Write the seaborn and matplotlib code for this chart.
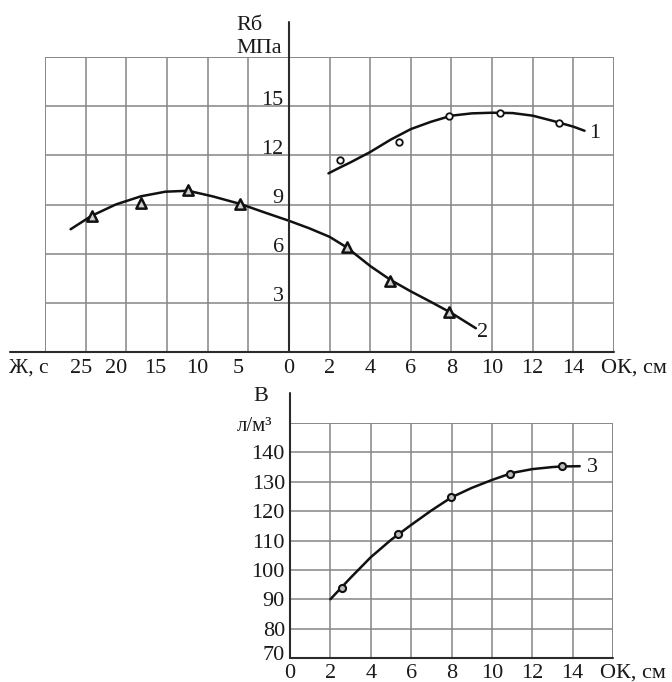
import numpy as np
import pandas as pd
import matplotlib
matplotlib.use("Agg")
import matplotlib.pyplot as plt
import seaborn as sns

# --- DATA ---
# curve 1: strength vs slump (OK, cm)
S1_OK = [2.5, 5.4, 7.9, 10.4, 13.3]
S1_R = [11.7, 12.8, 14.4, 14.6, 14.0]
C1_OK = [1.95, 2.5, 3, 4, 5, 6, 7, 8, 9, 10, 11, 12, 13, 14, 14.55]
C1_R = [10.9, 11.25, 11.55, 12.2, 12.95, 13.6, 14.05, 14.42, 14.56, 14.6, 14.58, 14.42, 14.1, 13.75, 13.5]

# curve 2: strength vs stiffness (Ж, s) on the left and slump (OK, cm) on the right
S2_ZH = [24.2, 18.2, 12.4, 6.0]
S2_ZH_R = [8.3, 9.09, 9.88, 9.03]
S2_OK = [2.84, 5.0, 7.9]
S2_OK_R = [6.4, 4.33, 2.42]
C2_ZH = [26.85, 24.3, 21.3, 18.2, 15.2, 12.4, 9.4, 5.95, 2.9, 0]
C2_ZH_R = [7.49, 8.3, 9.0, 9.5, 9.78, 9.84, 9.5, 9.03, 8.5, 8.01]
C2_OK = [0, 1, 2, 2.84, 4, 5, 6, 7, 8, 9.2]
C2_OK_R = [8.01, 7.55, 7.03, 6.39, 5.25, 4.4, 3.7, 3.05, 2.38, 1.45]

# curve 3: water demand vs slump
S3_OK = [2.56, 5.36, 7.96, 10.9, 13.45]
S3_B = [94.0, 112.3, 124.7, 132.8, 135.2]
C3_OK = [2.0, 3, 4, 5, 6, 7, 8, 9, 10, 11, 12, 13, 13.45, 14.35]
C3_B = [90, 97.3, 104.3, 110.2, 115.3, 120.2, 124.7, 127.9, 130.6, 133.0, 134.3, 135.0, 135.2, 135.3]

ZH_TICKS = [25, 20, 15, 10, 5]
OK_TICKS = [0, 2, 4, 6, 8, 10, 12, 14]
R_TICKS = [3, 6, 9, 12, 15]
B_TICKS = [70, 80, 90, 100, 110, 120, 130, 140]

ZH_SCALE = 0.4  # 5 s of Ж take the same width as 2 cm of OK

sns.set_theme(style="white")
plt.rcParams['font.family'] = ['Liberation Serif', 'DejaVu Serif']
FS = 16
TXT = "#1a1a1a"
GRID = "#858585"
AXIS = "#2b2b2b"

fig = plt.figure(figsize=(6.72, 6.82), dpi=100)
W, H = 672.0, 682.0

# ---------- top chart ----------
ax1 = fig.add_axes([45 / W, 1 - 352 / H, 569 / W, 295 / H])
ax1.set_xlim(-12, 16)
ax1.set_ylim(0, 18)

c1 = pd.DataFrame({"x": C1_OK, "y": C1_R})
s1 = pd.DataFrame({"x": S1_OK, "y": S1_R})
zh_pos = [-z * ZH_SCALE for z in C2_ZH]
c2 = pd.DataFrame({"x": zh_pos[:-1] + C2_OK, "y": C2_ZH_R[:-1] + C2_OK_R})
s2 = pd.DataFrame({"x": [-z * ZH_SCALE for z in S2_ZH] + S2_OK, "y": S2_ZH_R + S2_OK_R})

sns.lineplot(data=c1, x="x", y="y", ax=ax1, color="#111111", lw=1.8, estimator=None, sort=False)
sns.lineplot(data=c2, x="x", y="y", ax=ax1, color="#111111", lw=1.8, estimator=None, sort=False)
sns.scatterplot(data=s1, x="x", y="y", ax=ax1, marker="o", s=22, facecolor="white",
                edgecolor="#111111", linewidth=1.3, zorder=5)
sns.scatterplot(data=s2, x="x", y="y", ax=ax1, marker="^", s=55, facecolor="#d0d0d0",
                edgecolor="#111111", linewidth=1.8, zorder=5)

ax1.set_xticks(np.arange(-12, 17, 2))
ax1.set_yticks(np.arange(0, 19, 3))
ax1.grid(True, color=GRID, lw=1.1)
ax1.tick_params(length=0, labelbottom=False, labelleft=False)
for sp in ax1.spines.values():
    sp.set_visible(False)
ax1.set_xlabel("")
ax1.set_ylabel("")
# frame edges (grey like the grid)
ax1.axvline(-12, color=GRID, lw=1.1)
ax1.axvline(16, color=GRID, lw=1.1)
ax1.axhline(18, color=GRID, lw=1.1)
# axes
ax1.axhline(0, xmin=-35 / 569, xmax=1, color=AXIS, lw=1.5, clip_on=False)
ax1.axvline(0, ymin=0, ymax=(352 - 22) / 295, color=AXIS, lw=1.5, clip_on=False)

for v in R_TICKS:
    ax1.text(-0.25, v + 0.1, str(v), ha="right", va="baseline", fontsize=FS, color=TXT)
left_lab_pos = [-10.2, -8.5, -6.6, -4.5, -2.5]
for z, p in zip(ZH_TICKS, left_lab_pos):
    ax1.text(p, -1.28, str(z), ha="center", va="baseline", fontsize=FS, color=TXT)
for v in OK_TICKS:
    ax1.text(v, -1.28, str(v), ha="center", va="baseline", fontsize=FS, color=TXT)
ax1.text(-13.75, -1.28, "Ж, с", ha="left", va="baseline", fontsize=FS - 0.5, color=TXT)
ax1.text(15.35, -1.28, "ОК, см", ha="left", va="baseline", fontsize=FS, color=TXT)
ax1.text(-2.6, 19.65, "Rб", ha="left", va="baseline", fontsize=FS, color=TXT, clip_on=False)
ax1.text(-2.6, 18.24, "МПа", ha="left", va="baseline", fontsize=FS, color=TXT, clip_on=False)
ax1.text(15.06, 13.36, "1", ha="center", va="center", fontsize=FS, color=TXT)
ax1.text(9.55, 1.22, "2", ha="center", va="center", fontsize=FS, color=TXT)

# ---------- bottom chart ----------
ax2 = fig.add_axes([290 / W, 1 - 658 / H, 323 / W, 235 / H])
ax2.set_xlim(0, 16)
ax2.set_ylim(70, 150)

c3 = pd.DataFrame({"x": C3_OK, "y": C3_B})
s3 = pd.DataFrame({"x": S3_OK, "y": S3_B})
sns.lineplot(data=c3, x="x", y="y", ax=ax2, color="#111111", lw=1.8, estimator=None, sort=False)
sns.scatterplot(data=s3, x="x", y="y", ax=ax2, marker="o", s=26, facecolor="#bbbbbb",
                edgecolor="#111111", linewidth=1.5, zorder=5)

ax2.set_xticks(np.arange(0, 17, 2))
ax2.set_yticks(np.arange(70, 151, 10))
ax2.grid(True, color=GRID, lw=1.1)
ax2.tick_params(length=0, labelbottom=False, labelleft=False)
for sp in ax2.spines.values():
    sp.set_visible(False)
ax2.set_xlabel("")
ax2.set_ylabel("")
ax2.axvline(16, color=GRID, lw=1.1)
ax2.axhline(150, color=GRID, lw=1.1)
ax2.axhline(70, color=AXIS, lw=1.5, clip_on=False)
ax2.axvline(0, ymin=0, ymax=(658 - 393) / 235, color=AXIS, lw=1.5, clip_on=False)

for v in B_TICKS:
    yb = v - 2.4 if v > 70 else v - 0.7
    ax2.text(-0.25, yb, str(v), ha="right", va="baseline", fontsize=FS, color=TXT, clip_on=False)
for v in OK_TICKS:
    ax2.text(v, 63.2, str(v), ha="center", va="baseline", fontsize=FS, color=TXT, clip_on=False)
ax2.text(15.35, 63.2, "ОК, см", ha="left", va="baseline", fontsize=FS, color=TXT, clip_on=False)
ax2.text(-1.83, 157.5, "B", ha="left", va="baseline", fontsize=FS, color=TXT, clip_on=False)
ax2.text(-2.62, 147.3, "л/м³", ha="left", va="baseline", fontsize=FS - 1, color=TXT, clip_on=False)
ax2.text(15.0, 134.7, "3", ha="center", va="center", fontsize=FS, color=TXT)

fig.savefig("out.png", dpi=100)
